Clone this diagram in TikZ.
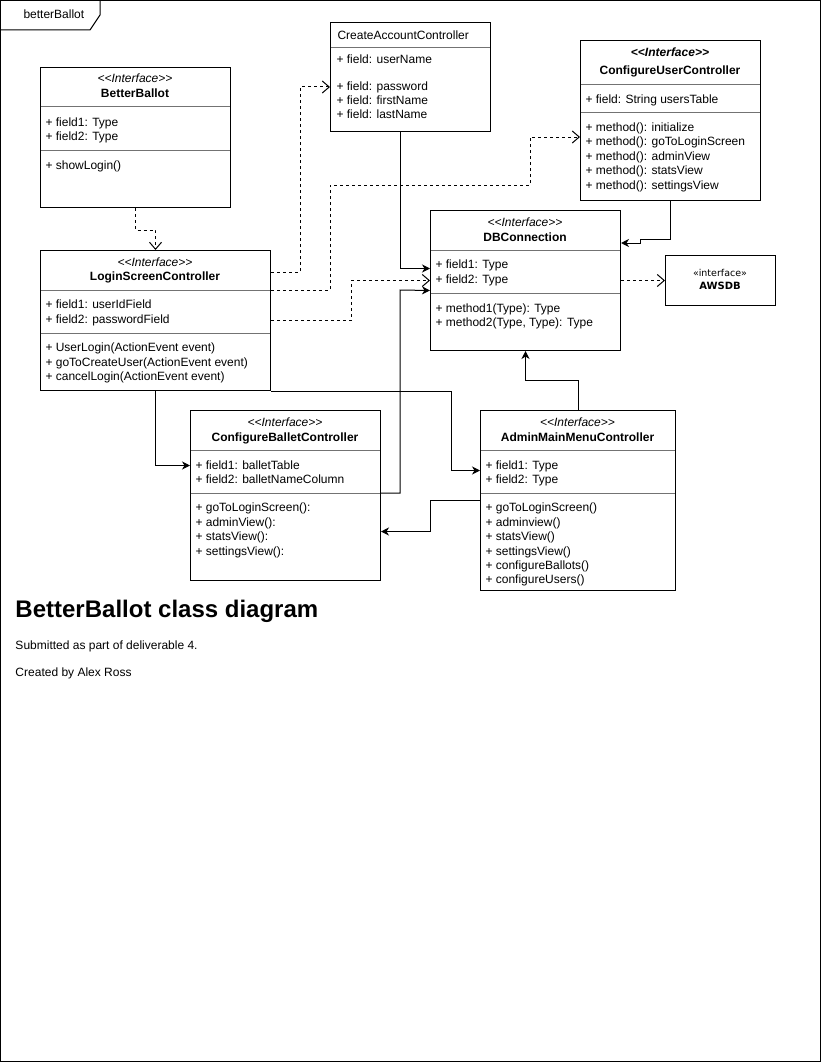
\documentclass[tikz,border=0pt]{standalone}
\usepackage{fontspec}
\setmainfont{Liberation Sans}
\newfontfamily\awsfont{DejaVu Sans}
\usetikzlibrary{arrows.meta}

\tikzset{
  classbox/.style={draw, anchor=north west, inner sep=0pt},
  sepline/.style={draw=black!55},
  member/.style={anchor=base west, inner sep=0pt, font=\fontsize{12}{14}\selectfont},
  stereo/.style={anchor=base, inner sep=0pt, font=\fontsize{12}{14}\selectfont\itshape},
  cname/.style={anchor=base, inner sep=0pt, font=\fontsize{12}{14}\selectfont\bfseries},
  dep/.style={dash pattern=on 3pt off 3pt, -{Straight Barb[length=7pt,width=12pt]}},
  assoc/.style={-{Stealth[length=8pt,width=8pt,inset=2.5pt]}},
}

\begin{document}
\begin{tikzpicture}[x=1pt, y=-1pt, line width=1pt]
\useasboundingbox (0,0) rectangle (821,1062);
% frame
\draw (0.5,0.5) rectangle (820.5,1061.5);
\draw (0.5,30) -- (90,30) -- (100,15) -- (100,0.5);
\node[member] (frm) at (23,19) {betterBallot};

% BetterBallot
\node[classbox, minimum width=190pt, minimum height=140pt] (bb) at (40,67) {};
\node[stereo] (bbs) at (135,83) {<\kern0pt<Interface>\kern0pt>};
\node[cname] (bbn) at (135,98) {BetterBallot};
\draw[sepline] (40.5,107) -- (229.5,107);
\node[member] (bbf1) at (45,126) {+ field1: Type};
\node[member] (bbf2) at (45,140) {+ field2: Type};
\draw[sepline] (40.5,150) -- (229.5,150);
\node[member] (bbm1) at (45,169) {+ showLogin()};

% CreateAccountController
\node[classbox, minimum width=160pt, minimum height=109pt] (create) at (330,22) {};
\node[member] (crn) at (337,40) {CreateAccountController};
\draw[sepline] (330.5,48) -- (489.5,48);
\node[member] (crf0) at (336,63.5) {+ field: userName};
\foreach \t [count=\i] in {{+ field: password},{+ field: firstName},{+ field: lastName}}
  \node[member] (crf\i) at (336,76+14.3*\i) {\t};

% ConfigureUserController
\node[classbox, minimum width=180pt, minimum height=160pt] (cu) at (580,40) {};
\node[stereo, font=\fontsize{12}{14}\selectfont\bfseries\itshape] (cus) at (670,57) {<\kern0pt<Interface>\kern0pt>};
\node[cname] (cun) at (670,75) {ConfigureUserController};
\draw[sepline] (580.5,84.5) -- (759.5,84.5);
\node[member] (cuf1) at (585,103) {+ field: String usersTable};
\draw[sepline] (580.5,112.5) -- (759.5,112.5);
\foreach \t [count=\i] in {initialize,goToLoginScreen,adminView,statsView,settingsView}
  \node[member] (cum\i) at (585,117+14.4*\i) {+ method(): \t};

% DBConnection
\node[classbox, minimum width=190pt, minimum height=140pt] (db) at (430,210) {};
\node[stereo] (dbs) at (525,226) {<\kern0pt<Interface>\kern0pt>};
\node[cname] (dbn) at (525,241) {DBConnection};
\draw[sepline] (430.5,250.5) -- (619.5,250.5);
\node[member] (dbf1) at (435,268.5) {+ field1: Type};
\node[member] (dbf2) at (435,283.5) {+ field2: Type};
\draw[sepline] (430.5,293.5) -- (619.5,293.5);
\node[member] (dbm1) at (435,312) {+ method1(Type): Type};
\node[member] (dbm2) at (435,326.5) {+ method2(Type, Type): Type};

% AWSDB
\node[classbox, minimum width=110pt, minimum height=50pt] (aws) at (665,255) {};
\node[anchor=base, inner sep=0pt, font=\awsfont\fontsize{9.5}{11}\selectfont] (awss) at (720,276.5) {«interface»};
\node[anchor=base, inner sep=0pt, font=\awsfont\fontsize{10}{12}\selectfont\bfseries] (awsn) at (720,289) {AWSDB};

% LoginScreenController
\node[classbox, minimum width=230pt, minimum height=140pt] (login) at (40,250) {};
\node[stereo] (lss) at (155,266) {<\kern0pt<Interface>\kern0pt>};
\node[cname] (lsn) at (155,280.5) {LoginScreenController};
\draw[sepline] (40.5,290.5) -- (269.5,290.5);
\node[member] (lsf1) at (45,308.5) {+ field1: userIdField};
\node[member] (lsf2) at (45,323.5) {+ field2: passwordField};
\draw[sepline] (40.5,333.5) -- (269.5,333.5);
\foreach \t [count=\i] in {UserLogin,goToCreateUser,cancelLogin}
  \node[member] (lsm\i) at (45,337+14.5*\i) {+ \t(ActionEvent event)};

% ConfigureBalletController
\node[classbox, minimum width=190pt, minimum height=170pt] (cb) at (190,410) {};
\node[stereo] (cbs) at (285,426) {<\kern0pt<Interface>\kern0pt>};
\node[cname] (cbn) at (285,441) {ConfigureBalletController};
\draw[sepline] (190.5,450.5) -- (379.5,450.5);
\node[member] (cbf1) at (195,469) {+ field1: balletTable};
\node[member] (cbf2) at (195,483) {+ field2: balletNameColumn};
\draw[sepline] (190.5,493.5) -- (379.5,493.5);
\foreach \t [count=\i] in {goToLoginScreen,adminView,statsView,settingsView}
  \node[member] (cbm\i) at (195,497.5+14.4*\i) {+ \t():};

% AdminMainMenuController
\node[classbox, minimum width=195pt, minimum height=180pt] (admin) at (480,410) {};
\node[stereo] (ams) at (577.5,426) {<\kern0pt<Interface>\kern0pt>};
\node[cname] (amn) at (577.5,441.5) {AdminMainMenuController};
\draw[sepline] (480.5,450.5) -- (674.5,450.5);
\node[member] (amf1) at (485,469) {+ field1: Type};
\node[member] (amf2) at (485,483) {+ field2: Type};
\draw[sepline] (480.5,493.5) -- (674.5,493.5);
\foreach \t [count=\i] in {goToLoginScreen,adminview,statsView,settingsView,configureBallots,configureUsers}
  \node[member] (amm\i) at (485,497.5+14.4*\i) {+ \t()};

% connectors
\draw[dep] (bb.south) -- ++(0,22) -| (login.north);
\draw[dep] ([yshift=-22pt]login.north east) -| (300,87) -- ([yshift=-65pt]create.north west);
\draw[dep] ([yshift=-40pt]login.north east) -| (330,185) -| (530,137) -- ([yshift=-97pt]cu.north west);
\draw[dep] (login.east) -- ++(80,0) |- ([yshift=0pt]db.west);
\draw[assoc] ([xshift=-10pt]create.south) |- ([yshift=12pt]db.west);
\draw[assoc] ([yshift=-83pt]cb.north east) -| (400,290) -- ([yshift=-10pt]db.west);
\draw[assoc] (cu.south) -- ++(0,38) -| (640,243) -- ([yshift=-33pt]db.north east);
\draw[dep] (db.east) -- (aws.west);
\draw[assoc] (admin.north) -- ++(0,-30) -| (db.south);
\draw[assoc] (login.south) |- ([yshift=30pt]cb.west);
\draw[assoc] (login.south east) -- ++(180,0) |- ([yshift=30pt]admin.west);
\draw[assoc] (admin.west) -- ++(-50,0) |- ([yshift=-36pt]cb.east);

% notes
\node[anchor=base west, inner sep=0pt, font=\fontsize{24}{28}\selectfont\bfseries] (ttl) at (15,617) {BetterBallot class diagram};
\node[member] (sub) at (15,649.5) {Submitted as part of deliverable 4.};
\node[member] (auth) at (15,676.5) {Created by Alex Ross};
\end{tikzpicture}
\end{document}
